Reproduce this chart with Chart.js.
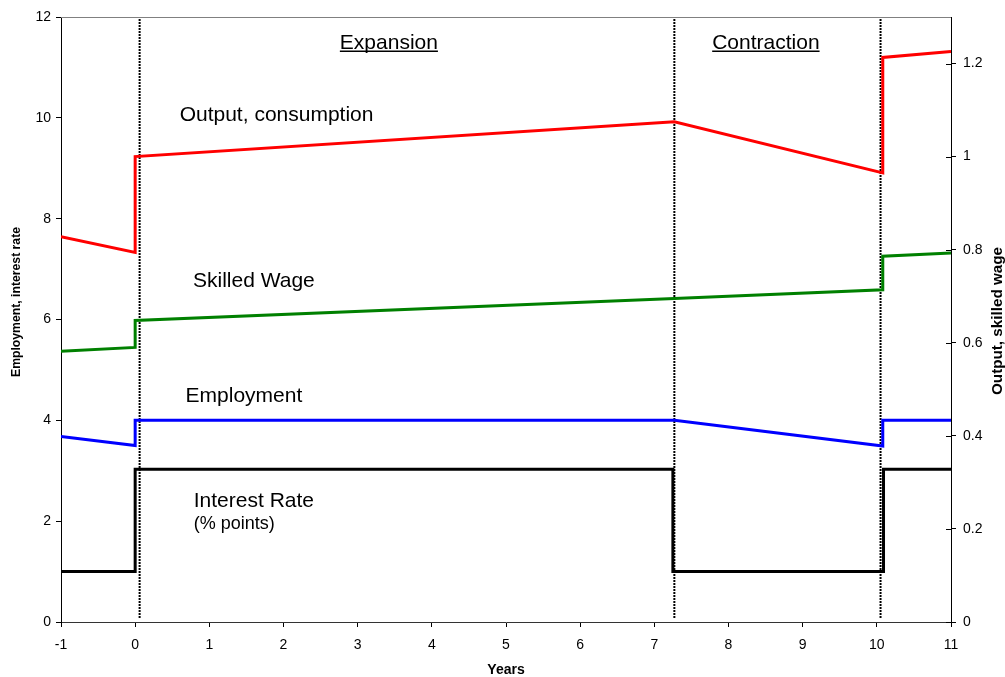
<!DOCTYPE html>
<html>
<head>
<meta charset="utf-8">
<script src="https://cdn.jsdelivr.net/npm/chart.js@4.4.1/dist/chart.umd.min.js"></script>
<style>
  html, body { margin: 0; padding: 0; background: #fff; }
  #wrap { width: 1005px; height: 677px; }
</style>
</head>
<body>
<div id="wrap"><canvas id="chart" width="1005" height="677"></canvas></div>
<script>
// Data
const pathYears = [-1, 0, 0, 7.27, 10.08, 10.08, 11];
const outputValues = [0.828, 0.794, 1.0, 1.075, 0.965, 1.213, 1.226];   // right axis
const wageValues = [0.582, 0.590, 0.648, 0.695, 0.714, 0.786, 0.793];   // right axis
const employmentValues = [3.68, 3.5, 4.0, 4.0, 3.49, 4.0, 4.0];         // left axis
const rateYears = [-1, 0, 0, 7.25, 7.25, 10.09, 10.09, 11];
const rateValues = [1, 1, 3.03, 3.03, 1, 1, 3.03, 3.03];                 // left axis
const phaseBreaks = [0.06, 7.27, 10.05];

const xTicks = [-1, 0, 1, 2, 3, 4, 5, 6, 7, 8, 9, 10, 11];
const leftTicks = [0, 2, 4, 6, 8, 10, 12];
const rightTicks = [0, 0.2, 0.4, 0.6, 0.8, 1, 1.2];

const FONT = '"Liberation Sans", Arial, sans-serif';

function points(xs, ys) {
  return xs.map((x, i) => ({ x: x, y: ys[i] }));
}

function seriesLine(label, xs, ys, color, axis) {
  return {
    label: label,
    data: points(xs, ys),
    borderColor: color,
    backgroundColor: color,
    borderWidth: 3,
    pointRadius: 0,
    tension: 0,
    yAxisID: axis
  };
}

const datasets = [
  seriesLine('Interest Rate', rateYears, rateValues, '#000000', 'yL'),
  seriesLine('Employment', pathYears, employmentValues, '#0000ff', 'yL'),
  seriesLine('Skilled Wage', pathYears, wageValues, '#008000', 'yR'),
  seriesLine('Output, consumption', pathYears, outputValues, '#ff0000', 'yR')
];

// dotted phase dividers, full height of the left axis
phaseBreaks.forEach(b => {
  datasets.push({
    label: 'break',
    data: points([b, b], [0.08, 12]),
    borderColor: '#000000',
    borderWidth: 2,
    borderDash: [2, 1],
    pointRadius: 0,
    yAxisID: 'yL'
  });
});

// text inside the plot: x in years, y in left-axis units (baseline)
const notes = [
  { text: 'Expansion', x: 2.76, y: 11.37, size: 21, underline: true },
  { text: 'Contraction', x: 7.78, y: 11.37, size: 21, underline: true },
  { text: 'Output, consumption', x: 0.60, y: 9.94, size: 21 },
  { text: 'Skilled Wage', x: 0.78, y: 6.65, size: 21 },
  { text: 'Employment', x: 0.68, y: 4.36, size: 21 },
  { text: 'Interest Rate', x: 0.79, y: 2.29, size: 21 },
  { text: '(% points)', x: 0.79, y: 1.85, size: 18 }
];

// rotated title, stretched to the length it has in the picture
function sideTitle(ctx, text, cx, cy, length) {
  ctx.save();
  ctx.translate(cx, cy);
  ctx.rotate(-Math.PI / 2);
  const w = ctx.measureText(text).width;
  ctx.scale(length / w, 1);
  ctx.fillText(text, 0, 0);
  ctx.restore();
}

const decorations = {
  id: 'decorations',
  afterDatasetsDraw(chart) {
    const ctx = chart.ctx;
    const area = chart.chartArea;
    const xs = chart.scales.x, yl = chart.scales.yL, yr = chart.scales.yR;
    ctx.save();

    // grey frame line on top
    ctx.strokeStyle = '#808080';
    ctx.lineWidth = 1;
    ctx.beginPath();
    ctx.moveTo(area.left, area.top + 0.5);
    ctx.lineTo(area.right, area.top + 0.5);
    ctx.stroke();

    // inner half of the right axis ticks
    ctx.strokeStyle = '#000000';
    rightTicks.forEach(v => {
      const py = Math.round(yr.getPixelForValue(v)) + 0.5;
      ctx.beginPath();
      ctx.moveTo(area.right - 5, py);
      ctx.lineTo(area.right, py);
      ctx.stroke();
    });

    // notes
    ctx.fillStyle = '#000000';
    ctx.textBaseline = 'alphabetic';
    ctx.textAlign = 'left';
    notes.forEach(n => {
      ctx.font = n.size + 'px ' + FONT;
      const px = xs.getPixelForValue(n.x);
      const py = yl.getPixelForValue(n.y);
      ctx.fillText(n.text, px, py);
      if (n.underline) {
        const w = ctx.measureText(n.text).width;
        ctx.lineWidth = 1.5;
        ctx.beginPath();
        ctx.moveTo(px, py + 2.5);
        ctx.lineTo(px + w, py + 2.5);
        ctx.stroke();
      }
    });

    // axis titles
    ctx.textAlign = 'center';
    ctx.textBaseline = 'middle';
    ctx.font = 'bold 12px ' + FONT;
    sideTitle(ctx, 'Employment, interest rate', 17, 302, 150);
    ctx.font = 'bold 14px ' + FONT;
    sideTitle(ctx, 'Output, skilled wage', 998, 321, 148);
    ctx.fillText('Years', (area.left + area.right) / 2, 670);

    ctx.restore();
  }
};

function fixedTicks(list) {
  return function (scale) {
    scale.ticks = list.map(v => ({ value: v }));
  };
}

function tickText(v) {
  return String(Math.round(v * 10) / 10);
}

new Chart(document.getElementById('chart'), {
  type: 'line',
  data: { datasets: datasets },
  options: {
    responsive: false,
    animation: false,
    layout: { padding: { top: 17, left: 0, right: 0, bottom: 0 } },
    plugins: {
      legend: { display: false },
      tooltip: { enabled: false }
    },
    scales: {
      x: {
        type: 'linear',
        min: -1,
        max: 11,
        afterBuildTicks: fixedTicks(xTicks),
        afterFit(scale) { scale.height = 55; },
        grid: { drawOnChartArea: false, tickLength: 5, color: '#000000' },
        border: { display: true, color: '#333333', width: 1 },
        ticks: { color: '#000000', padding: 10, font: { size: 14, family: FONT }, callback: tickText, maxRotation: 0 }
      },
      yL: {
        position: 'left',
        min: 0,
        max: 12,
        afterBuildTicks: fixedTicks(leftTicks),
        afterFit(scale) { scale.width = 61; },
        grid: { drawOnChartArea: false, tickLength: 5, color: '#000000' },
        border: { display: true, color: '#000000', width: 1 },
        ticks: { color: '#000000', padding: 5, font: { size: 14, family: FONT }, callback: tickText }
      },
      yR: {
        position: 'right',
        min: 0,
        max: 1.3,
        afterBuildTicks: fixedTicks(rightTicks),
        afterFit(scale) { scale.width = 54; },
        grid: { drawOnChartArea: false, tickLength: 5, color: '#000000' },
        border: { display: true, color: '#000000', width: 1 },
        ticks: { color: '#000000', padding: 7, font: { size: 14, family: FONT }, callback: tickText }
      }
    }
  },
  plugins: [decorations]
});
</script>
</body>
</html>
